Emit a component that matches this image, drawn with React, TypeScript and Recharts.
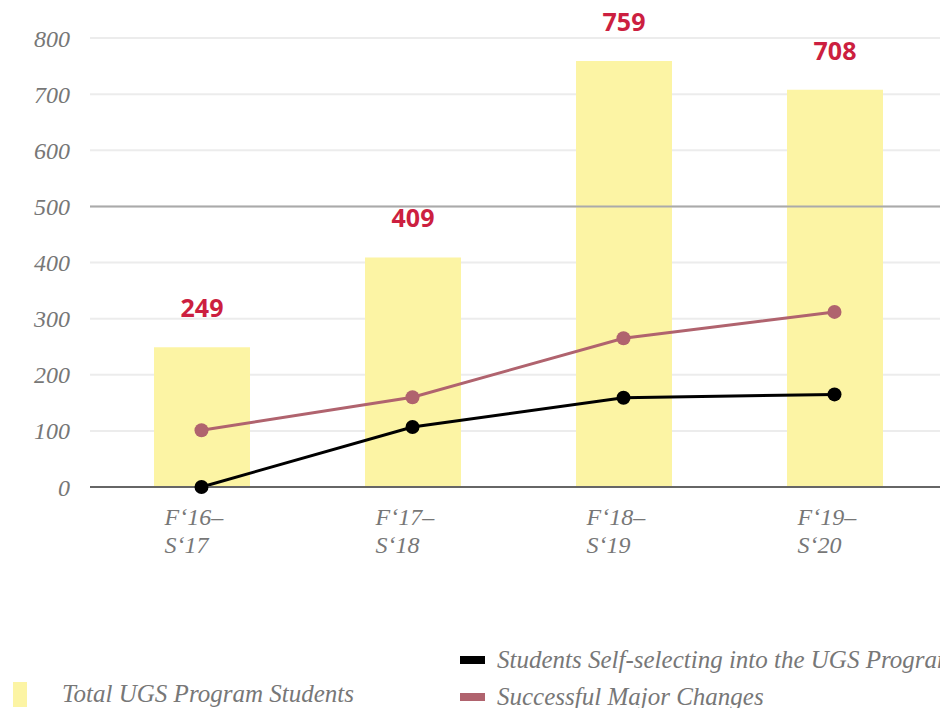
import React from "react";
import {
  ComposedChart,
  Bar,
  Line,
  XAxis,
  YAxis,
  CartesianGrid,
  ReferenceLine,
  LabelList,
} from "recharts";

const years = ["F‘16–\nS‘17", "F‘17–\nS‘18", "F‘18–\nS‘19", "F‘19–\nS‘20"];
const totalStudents = [249, 409, 759, 708];
const selfSelecting = [0, 107, 159, 165];
const majorChanges = [101, 160, 265, 312];
const yTicks = [0, 100, 200, 300, 400, 500, 600, 700, 800];

const seriesNames = {
  total: "Total UGS Program Students",
  self: "Students Self-selecting into the UGS Program",
  major: "Successful Major Changes",
};

const data = years.map((name, i) => ({
  name,
  total: totalStudents[i],
  self: selfSelecting[i],
  major: majorChanges[i],
}));

const SERIF = "'Liberation Serif', 'Times New Roman', serif";
const YELLOW = "#fcf4a4";
const PINK = "#b0636e";
const RED = "#cc1f40";

// two-line italic category labels, left aligned
const XTick = (props: any) => {
  const { x, y, payload } = props;
  const lines = String(payload.value).split("\n");
  return (
    <text
      x={x - 37}
      y={y}
      fill="#777"
      fontFamily={SERIF}
      fontStyle="italic"
      fontSize={24}
      textAnchor="start"
    >
      {lines.map((l, i) => (
        <tspan key={i} x={x - 37} dy={i === 0 ? 30 : 28}>
          {l}
        </tspan>
      ))}
    </text>
  );
};

const BarValue = (props: any) => {
  const { x, y, width, value } = props;
  return (
    <text
      x={x + width / 2}
      y={y - 30}
      textAnchor="middle"
      fill={RED}
      fontFamily="'Open Sans', sans-serif"
      fontWeight={700}
      fontSize={25}
    >
      {value}
    </text>
  );
};

const legendText: React.CSSProperties = {
  fontFamily: SERIF,
  fontStyle: "italic",
  fontSize: 25,
  color: "#777",
  whiteSpace: "nowrap",
  lineHeight: "28px",
};

export default function App() {
  return (
    <div style={{ position: "absolute", left: 0, top: 0, width: 940, height: 708 }}>
      <ComposedChart
        width={940}
        height={708}
        data={data}
        margin={{ top: 38, right: 0, left: 0, bottom: 161 }}
      >
        <CartesianGrid vertical={false} stroke="#ececec" strokeWidth={2} />
        <XAxis
          dataKey="name"
          tick={<XTick />}
          tickLine={false}
          axisLine={{ stroke: "#666", strokeWidth: 2 }}
          height={60}
          padding={{ left: 6, right: 0 }}
          interval={0}
        />
        <YAxis
          domain={[0, 800]}
          ticks={yTicks}
          width={90}
          axisLine={false}
          tickLine={false}
          tickSize={0}
          tickMargin={20}
          tick={{ fill: "#777", fontFamily: SERIF, fontStyle: "italic", fontSize: 24 }}
        />
        <ReferenceLine y={500} stroke="#aaa" strokeWidth={2} />
        <Bar dataKey="total" fill={YELLOW} barSize={96} isAnimationActive={false}>
          <LabelList dataKey="total" content={<BarValue />} />
        </Bar>
        <Line
          dataKey="major"
          stroke={PINK}
          strokeWidth={3}
          dot={{ r: 7, fill: PINK, stroke: PINK, strokeWidth: 0 }}
          isAnimationActive={false}
        />
        <Line
          dataKey="self"
          stroke="#000"
          strokeWidth={3}
          dot={{ r: 7, fill: "#000", stroke: "#000", strokeWidth: 0 }}
          isAnimationActive={false}
        />
      </ComposedChart>
      <div style={{ position: "absolute", left: 13, top: 680, display: "flex", alignItems: "center" }}>
        <span style={{ width: 14, height: 25, background: YELLOW, marginRight: 35 }} />
        <span style={legendText}>{seriesNames.total}</span>
      </div>
      <div style={{ position: "absolute", left: 460, top: 646, display: "flex", alignItems: "center" }}>
        <span style={{ width: 25, height: 8, background: "#000", marginRight: 12 }} />
        <span style={legendText}>{seriesNames.self}</span>
      </div>
      <div style={{ position: "absolute", left: 460, top: 683, display: "flex", alignItems: "center" }}>
        <span style={{ width: 25, height: 8, background: PINK, marginRight: 12 }} />
        <span style={legendText}>{seriesNames.major}</span>
      </div>
    </div>
  );
}
